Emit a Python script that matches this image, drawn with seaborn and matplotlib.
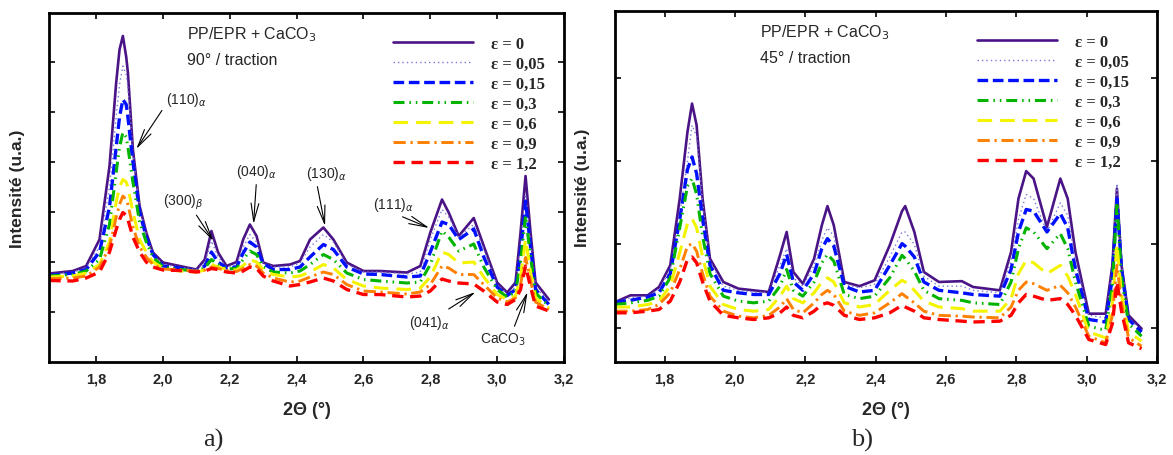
import matplotlib
matplotlib.use('Agg')
from matplotlib import pyplot as plt
import seaborn as sns


# Strain levels (legend labels)
eps_labels = ['ε = 0', 'ε = 0,05', 'ε = 0,15', 'ε = 0,3', 'ε = 0,6', 'ε = 0,9', 'ε = 1,2']

# a) 90° / traction
x_a = [1.66, 1.73, 1.77, 1.81, 1.84, 1.86, 1.87, 1.88, 1.89, 1.895, 1.91, 1.93, 1.95, 1.97,
       2.00, 2.05, 2.10, 2.125, 2.145, 2.165, 2.19, 2.22, 2.24, 2.26, 2.28, 2.30, 2.33, 2.38,
       2.41, 2.44, 2.48, 2.51, 2.55, 2.60, 2.65, 2.73, 2.77, 2.80, 2.835, 2.855, 2.885, 2.93,
       2.96, 3.00, 3.03, 3.055, 3.07, 3.085, 3.10, 3.115, 3.155]
a_e0 = [1.77, 1.82, 1.92, 2.45, 3.92, 5.59, 6.25, 6.52, 6.10, 5.79, 4.25, 3.12, 2.59, 2.19,
        1.99, 1.92, 1.85, 2.05, 2.62, 2.19, 1.92, 2.00, 2.45, 2.75, 2.52, 1.99, 1.92, 1.95,
        2.02, 2.45, 2.69, 2.45, 1.99, 1.82, 1.82, 1.79, 1.92, 2.59, 3.25, 2.99, 2.52, 2.88,
        2.32, 1.59, 1.39, 1.59, 2.59, 3.72, 2.59, 1.59, 1.25]
a_e005 = [1.75, 1.80, 1.88, 2.30, 3.50, 4.90, 5.55, 5.92, 5.75, 5.50, 4.20, 3.10, 2.55, 2.17,
          1.95, 1.90, 1.85, 1.98, 2.42, 2.10, 1.90, 1.95, 2.30, 2.55, 2.40, 1.98, 1.90, 1.90,
          1.98, 2.30, 2.55, 2.40, 1.95, 1.80, 1.80, 1.76, 1.80, 2.45, 3.05, 2.90, 2.50, 2.75,
          2.25, 1.55, 1.36, 1.50, 2.35, 3.35, 2.40, 1.50, 1.20]
a_e015 = [1.73, 1.78, 1.85, 2.20, 3.10, 4.30, 4.90, 5.25, 5.15, 4.90, 4.00, 3.00, 2.50, 2.15,
          1.92, 1.88, 1.82, 1.92, 2.20, 2.00, 1.88, 1.90, 2.18, 2.40, 2.30, 1.97, 1.85, 1.85,
          1.90, 2.10, 2.35, 2.25, 1.90, 1.76, 1.75, 1.70, 1.72, 2.20, 2.80, 2.75, 2.45, 2.66,
          2.10, 1.50, 1.33, 1.45, 2.20, 3.22, 2.30, 1.45, 1.15]
a_e03 = [1.72, 1.75, 1.82, 2.05, 2.75, 3.80, 4.30, 4.59, 4.50, 4.30, 3.60, 2.80, 2.40, 2.10,
         1.90, 1.85, 1.82, 1.88, 2.05, 1.95, 1.86, 1.87, 2.05, 2.22, 2.15, 1.90, 1.80, 1.78,
         1.82, 1.95, 2.15, 2.05, 1.78, 1.65, 1.62, 1.58, 1.60, 1.95, 2.62, 2.50, 2.22, 2.36,
         1.90, 1.45, 1.30, 1.40, 2.00, 2.92, 2.10, 1.38, 1.12]
a_e06 = [1.70, 1.72, 1.78, 1.95, 2.40, 3.20, 3.50, 3.65, 3.60, 3.50, 3.00, 2.45, 2.20, 2.00,
         1.88, 1.82, 1.80, 1.84, 1.95, 1.90, 1.85, 1.84, 1.93, 2.05, 2.00, 1.85, 1.75, 1.70,
         1.72, 1.80, 1.95, 1.88, 1.65, 1.52, 1.48, 1.45, 1.48, 1.70, 2.20, 2.15, 1.98, 2.00,
         1.70, 1.35, 1.25, 1.32, 1.70, 2.45, 1.80, 1.28, 1.08]
a_e09 = [1.67, 1.68, 1.72, 1.90, 2.30, 2.90, 3.15, 3.32, 3.25, 3.15, 2.70, 2.30, 2.10, 1.95,
         1.86, 1.84, 1.82, 1.84, 1.90, 1.87, 1.83, 1.81, 1.87, 1.95, 1.92, 1.78, 1.68, 1.60,
         1.62, 1.70, 1.80, 1.75, 1.55, 1.42, 1.40, 1.36, 1.40, 1.55, 1.92, 1.88, 1.75, 1.75,
         1.55, 1.28, 1.20, 1.28, 1.55, 2.09, 1.62, 1.20, 1.05]
a_e12 = [1.63, 1.62, 1.68, 1.80, 2.20, 2.65, 2.85, 2.99, 2.93, 2.85, 2.50, 2.20, 2.00, 1.90,
         1.84, 1.83, 1.80, 1.82, 1.87, 1.85, 1.80, 1.78, 1.82, 1.90, 1.87, 1.72, 1.62, 1.52,
         1.55, 1.60, 1.68, 1.62, 1.45, 1.35, 1.35, 1.30, 1.32, 1.42, 1.66, 1.62, 1.58, 1.56,
         1.42, 1.20, 1.15, 1.25, 1.45, 1.92, 1.50, 1.12, 1.02]

# b) 45° / traction
x_b = [1.66, 1.703, 1.752, 1.784, 1.816, 1.843, 1.865, 1.878, 1.891, 1.908, 1.929, 1.967,
       2.01, 2.053, 2.096, 2.128, 2.147, 2.166, 2.193, 2.225, 2.247, 2.263, 2.281, 2.311,
       2.354, 2.397, 2.44, 2.475, 2.484, 2.51, 2.537, 2.58, 2.645, 2.677, 2.753, 2.785,
       2.806, 2.828, 2.849, 2.887, 2.925, 2.946, 2.968, 3.006, 3.054, 3.073, 3.086, 3.099,
       3.119, 3.156]
b_e0 = [1.31, 1.39, 1.39, 1.49, 1.75, 2.55, 3.35, 3.69, 3.43, 2.55, 1.83, 1.55, 1.47, 1.45,
        1.43, 1.87, 2.15, 1.67, 1.53, 1.83, 2.23, 2.46, 2.23, 1.55, 1.50, 1.57, 1.99, 2.40,
        2.46, 2.15, 1.67, 1.55, 1.56, 1.49, 1.45, 1.91, 2.55, 2.88, 2.79, 2.21, 2.79, 2.55,
        1.91, 1.17, 1.17, 1.75, 2.67, 1.75, 1.15, 0.99]
b_e005 = [1.31, 1.36, 1.38, 1.46, 1.70, 2.35, 3.00, 3.43, 3.30, 2.50, 1.80, 1.50, 1.45, 1.43,
          1.42, 1.75, 1.95, 1.60, 1.50, 1.75, 2.05, 2.20, 2.10, 1.52, 1.48, 1.52, 1.85, 2.15,
          2.15, 2.00, 1.62, 1.50, 1.50, 1.45, 1.42, 1.80, 2.30, 2.60, 2.55, 2.15, 2.50, 2.35,
          1.80, 1.15, 1.12, 1.70, 2.73, 1.80, 1.12, 0.96]
b_e015 = [1.31, 1.33, 1.37, 1.42, 1.65, 2.30, 2.90, 3.05, 2.85, 2.30, 1.75, 1.45, 1.42, 1.40,
          1.40, 1.65, 1.88, 1.55, 1.45, 1.65, 1.95, 2.07, 1.98, 1.50, 1.43, 1.45, 1.75, 2.01,
          1.98, 1.85, 1.55, 1.45, 1.42, 1.40, 1.38, 1.70, 2.15, 2.42, 2.40, 2.15, 2.37, 2.20,
          1.70, 1.10, 1.07, 1.60, 2.55, 1.70, 1.10, 0.95]
b_e03 = [1.28, 1.30, 1.33, 1.38, 1.60, 2.20, 2.70, 2.79, 2.60, 2.10, 1.65, 1.38, 1.32, 1.30,
         1.32, 1.50, 1.70, 1.45, 1.38, 1.55, 1.78, 1.88, 1.80, 1.40, 1.35, 1.38, 1.60, 1.87,
         1.83, 1.68, 1.45, 1.35, 1.33, 1.30, 1.28, 1.55, 1.95, 2.20, 2.15, 1.95, 2.13, 1.95,
         1.55, 1.02, 0.97, 1.50, 2.50, 1.60, 1.05, 0.90]
b_e06 = [1.25, 1.25, 1.28, 1.32, 1.50, 1.90, 2.25, 2.31, 2.20, 1.85, 1.50, 1.28, 1.22, 1.20,
         1.22, 1.38, 1.50, 1.35, 1.30, 1.42, 1.55, 1.60, 1.55, 1.30, 1.25, 1.28, 1.45, 1.57,
         1.55, 1.45, 1.32, 1.25, 1.23, 1.20, 1.20, 1.35, 1.65, 1.81, 1.78, 1.65, 1.75, 1.62,
         1.40, 0.95, 0.88, 1.30, 2.00, 1.40, 0.95, 0.84]
b_e09 = [1.20, 1.20, 1.22, 1.28, 1.42, 1.70, 1.98, 2.01, 1.92, 1.65, 1.38, 1.20, 1.14, 1.12,
         1.15, 1.25, 1.35, 1.22, 1.18, 1.30, 1.40, 1.45, 1.40, 1.20, 1.15, 1.18, 1.30, 1.41,
         1.38, 1.30, 1.20, 1.15, 1.14, 1.13, 1.12, 1.25, 1.45, 1.55, 1.53, 1.45, 1.51, 1.42,
         1.25, 0.90, 0.82, 1.15, 1.75, 1.30, 0.88, 0.78]
b_e12 = [1.18, 1.18, 1.20, 1.22, 1.32, 1.55, 1.82, 1.85, 1.78, 1.55, 1.32, 1.15, 1.12, 1.10,
         1.12, 1.18, 1.25, 1.15, 1.12, 1.20, 1.28, 1.30, 1.27, 1.15, 1.10, 1.12, 1.18, 1.27,
         1.25, 1.20, 1.12, 1.10, 1.08, 1.07, 1.08, 1.15, 1.30, 1.40, 1.38, 1.33, 1.35, 1.28,
         1.15, 0.86, 0.80, 1.05, 1.55, 1.20, 0.82, 0.75]

x_ticks = [1.8, 2.0, 2.2, 2.4, 2.6, 2.8, 3.0, 3.2]
x_ticklabels = ['1,8', '2,0', '2,2', '2,4', '2,6', '2,8', '3,0', '3,2']

# peak labels on panel a): text, arrow tip (x, y), text centre (x, y)
peak_labels = [r'(110)$_{\alpha}$', r'(300)$_{\beta}$', r'(040)$_{\alpha}$', r'(130)$_{\alpha}$',
               r'(111)$_{\alpha}$', r'(041)$_{\alpha}$', r'CaCO$_3$']
peak_tips = [(1.92, 4.26), (2.151, 2.42), (2.271, 2.76), (2.485, 2.72),
             (2.797, 2.68), (2.935, 1.40), (3.091, 1.40)]
peak_text_pos = [(2.07, 5.26), (2.061, 3.22), (2.28, 3.82), (2.49, 3.78),
                 (2.689, 3.16), (2.797, 0.80), (3.019, 0.46)]
peak_relpos = [(0.0, 0.2), (0.75, 0.0), (0.5, 0.0), (0.25, 0.0),
               (0.4, 0.1), (0.75, 0.9), (0.7, 1.0)]

# line styles, one per strain level
STYLES = [
    dict(color='#4a1486', lw=1.9, ls='-'),
    dict(color='#7878d8', lw=1.0, ls=(0, (1, 2.2))),
    dict(color='#0010ff', lw=2.4, ls=(0, (3.2, 1.4))),
    dict(color='#00b400', lw=2.2, ls=(0, (3.6, 1.6, 0.5, 1.6, 0.5, 1.6))),
    dict(color='#f4f400', lw=2.2, ls=(0, (4.8, 2.6))),
    dict(color='#ff8000', lw=2.1, ls=(0, (4.2, 1.6, 0.8, 1.6))),
    dict(color='#ff0000', lw=2.4, ls=(0, (3.4, 2.0))),
]


def draw_panel(ax, x, curves, ylim, yticks, title1, title2):
    for y, label, st in zip(curves, eps_labels, STYLES):
        sns.lineplot(x=x, y=y, ax=ax, color=st['color'], lw=st['lw'],
                     linestyle=st['ls'], label=label, errorbar=None, legend=False)

    ax.set_xlim(1.659, 3.2)
    ax.set_ylim(*ylim)
    ax.set_xticks(x_ticks)
    ax.set_xticklabels(x_ticklabels, fontweight='bold', fontsize=10.5)
    ax.set_yticks(yticks)
    ax.set_yticklabels([])
    ax.tick_params(direction='in', top=True, right=True, length=4, width=1.4, pad=7)
    for sp in ax.spines.values():
        sp.set_linewidth(2.0)
        sp.set_visible(True)

    ax.set_xlabel('2Θ (°)', fontweight='bold', fontsize=13)
    ax.xaxis.set_label_coords(0.5, -0.112)
    ax.set_ylabel('Intensité (u.a.)', fontweight='bold', fontsize=12.5)
    ax.yaxis.set_label_coords(-0.046, 0.5)

    ax.text(0.268, 0.94, title1, transform=ax.transAxes, fontsize=11.5, va='center')
    ax.text(0.268, 0.868, title2, transform=ax.transAxes, fontsize=11.5, va='center')

    handles, labels = ax.get_legend_handles_labels()
    ax.legend(handles, labels, loc='upper left', bbox_to_anchor=(0.668, 0.935),
              frameon=False, borderpad=0, borderaxespad=0, handlelength=4.8,
              handletextpad=1.1, labelspacing=0.24,
              prop=dict(family='Liberation Serif', weight='bold', size=12))


sns.set_style('ticks')
plt.rcParams['font.family'] = ['Liberation Sans', 'DejaVu Sans']
plt.rcParams['axes.edgecolor'] = 'black'

fig = plt.figure(figsize=(11.73, 4.56), dpi=100)
ax_a = fig.add_axes([0.0418, 0.2039, 0.4390, 0.7654])
ax_b = fig.add_axes([0.5243, 0.2039, 0.4621, 0.7697])

draw_panel(ax_a, x_a, [a_e0, a_e005, a_e015, a_e03, a_e06, a_e09, a_e12],
           (0.0, 6.98), [1, 2, 3, 4, 5, 6], r'PP/EPR + CaCO$_3$', '90° / traction')
draw_panel(ax_b, x_b, [b_e0, b_e005, b_e015, b_e03, b_e06, b_e09, b_e12],
           (0.59, 4.80), [1, 2, 3, 4], r'PP/EPR + CaCO$_3$', '45° / traction')

for txt, tip, pos, rp in zip(peak_labels, peak_tips, peak_text_pos, peak_relpos):
    ax_a.annotate(txt, xy=tip, xytext=pos, fontsize=10, ha='center', va='center',
                  arrowprops=dict(arrowstyle='->,head_length=1.3,head_width=0.28',
                                  color='black', lw=0.8, relpos=rp,
                                  shrinkA=1, shrinkB=0))

fig.text(213 / 1173, 1 - 440 / 456, 'a)', family='Liberation Serif', fontsize=19,
         ha='center', va='center')
fig.text(862 / 1173, 1 - 440 / 456, 'b)', family='Liberation Serif', fontsize=19,
         ha='center', va='center')

fig.savefig('out.png', dpi=100)
